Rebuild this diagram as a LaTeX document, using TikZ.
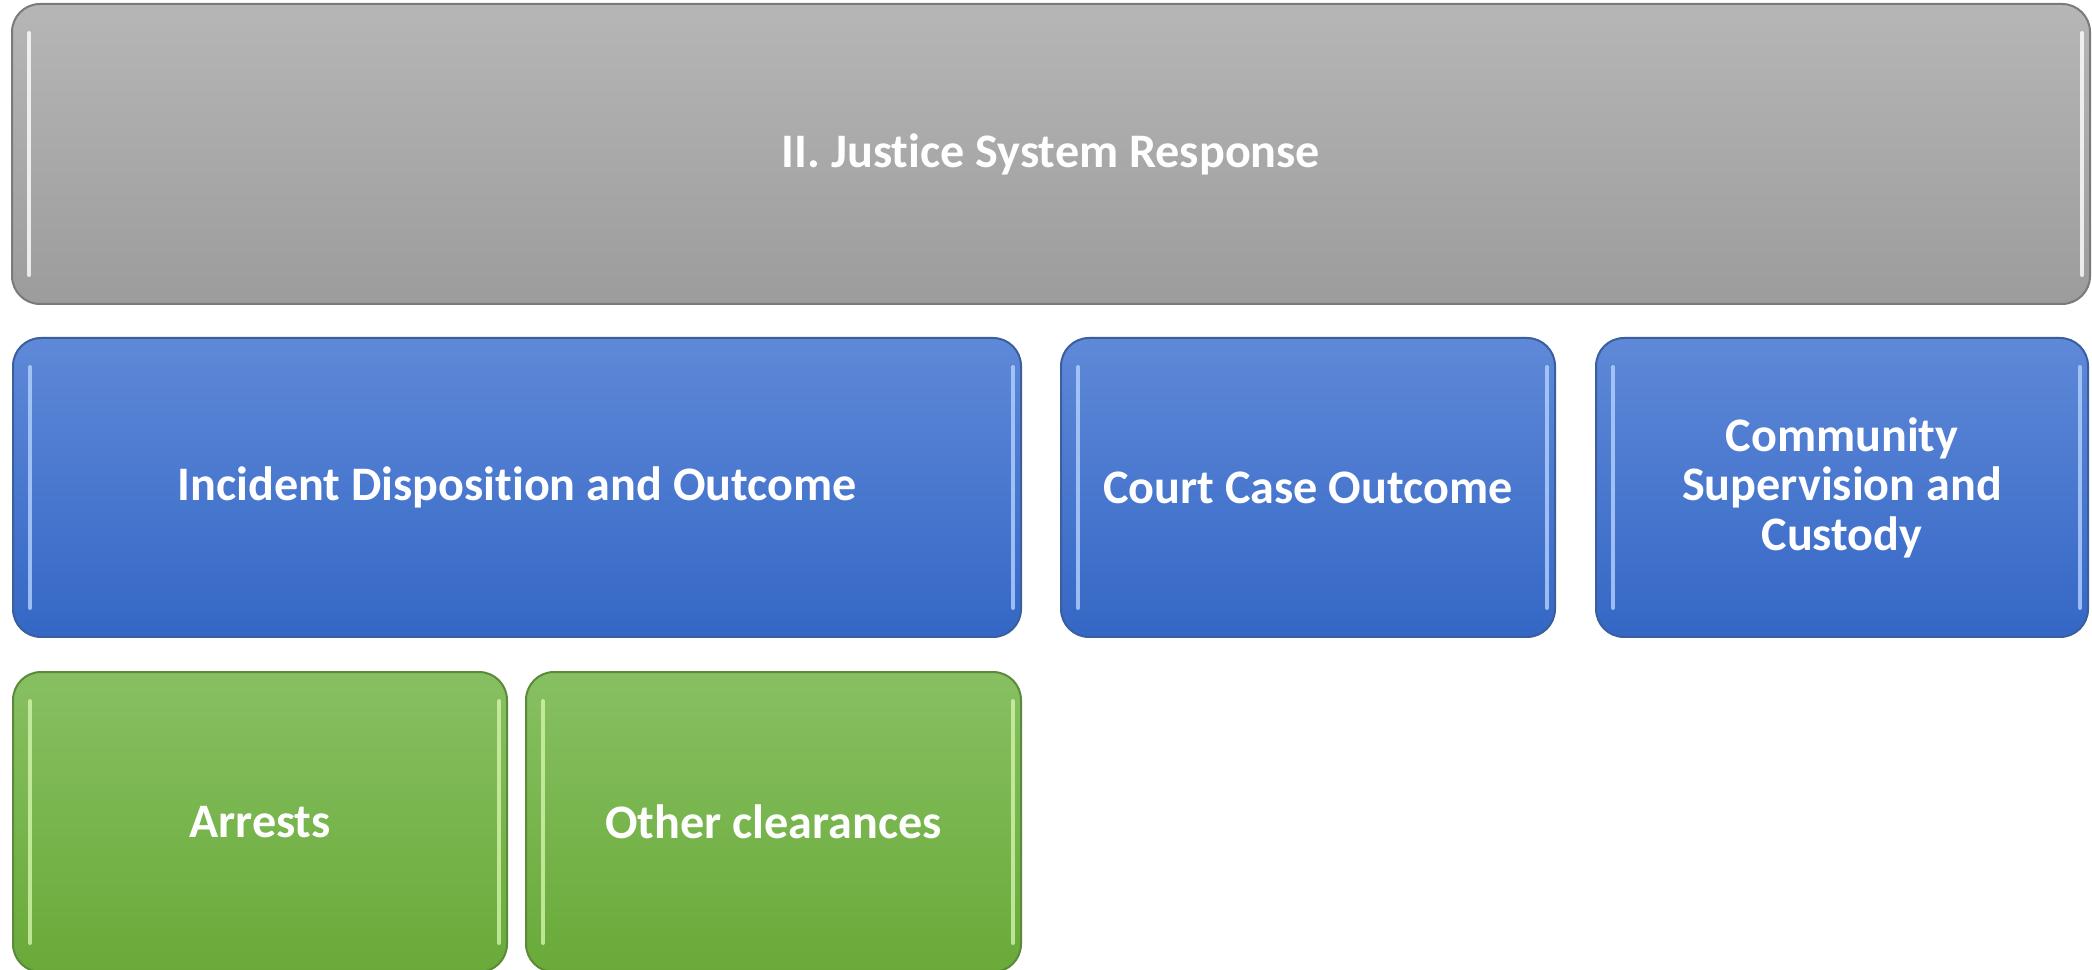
\documentclass[tikz,border=0pt]{standalone}
\usepackage{fontspec}
\setmainfont[Ligatures=NoCommon]{Carlito}
\definecolor{graytop}{HTML}{B6B6B6}
\definecolor{graybot}{HTML}{9C9C9C}
\definecolor{grayline}{HTML}{7A7A7A}
\definecolor{bluetop}{HTML}{5F89D8}
\definecolor{bluebot}{HTML}{3467C5}
\definecolor{blueline}{HTML}{3A5E9E}
\definecolor{bluehl}{HTML}{B4D2FF}
\definecolor{greentop}{HTML}{87C062}
\definecolor{greenbot}{HTML}{69AA39}
\definecolor{greenline}{HTML}{5B8A3A}
\definecolor{greenhl}{HTML}{D2F5AA}
\begin{document}
\begin{tikzpicture}[x=0.1mm,y=-0.1mm,
  box/.style={rectangle, rounded corners=2.8mm, inner sep=0pt, align=center,
    text=white, font=\fontsize{13.7}{14.1}\selectfont\bfseries, line width=0.2mm},
  graybox/.style={box, draw=grayline, top color=graytop, bottom color=graybot},
  bluebox/.style={box, draw=blueline, top color=bluetop, bottom color=bluebot},
  greenbox/.style={box, draw=greenline, top color=greentop, bottom color=greenbot},
  hl/.style={line width=0.4mm, line cap=round, opacity=0.8}
]
\clip (0,0) rectangle (2092,970);
\useasboundingbox (0,0) rectangle (2092,970);

% top level
\node[graybox, minimum width=207.8mm, minimum height=30mm] (jsr) at (1051,154)
  {II. Justice System Response};

% second level
\node[bluebox, minimum width=100.8mm, minimum height=29.9mm] (ido) at (517,487.5)
  {Incident Disposition and Outcome};
\node[bluebox, minimum width=49.4mm, minimum height=29.9mm] (cco) at (1308,487.5)
  {Court Case Outcome};
\node[bluebox, minimum width=49.2mm, minimum height=29.9mm] (csc) at (1842,487.5)
  {Community\\Supervision and\\Custody};

% third level
\node[greenbox, minimum width=49.4mm, minimum height=30mm] (arr) at (260,822)
  {Arrests};
\node[greenbox, minimum width=49.5mm, minimum height=30mm] (oth) at (773.5,822)
  {Other clearances};

% glossy edge highlights
\foreach \n/\c in {jsr/white, ido/bluehl, cco/bluehl, csc/bluehl, arr/greenhl, oth/greenhl}{
  \draw[hl, draw=\c] ([xshift=1.8mm,yshift=-3mm]\n.north west) -- ([xshift=1.8mm,yshift=3mm]\n.south west);
  \draw[hl, draw=\c] ([xshift=-0.9mm,yshift=-3mm]\n.north east) -- ([xshift=-0.9mm,yshift=3mm]\n.south east);
}
\end{tikzpicture}
\end{document}
